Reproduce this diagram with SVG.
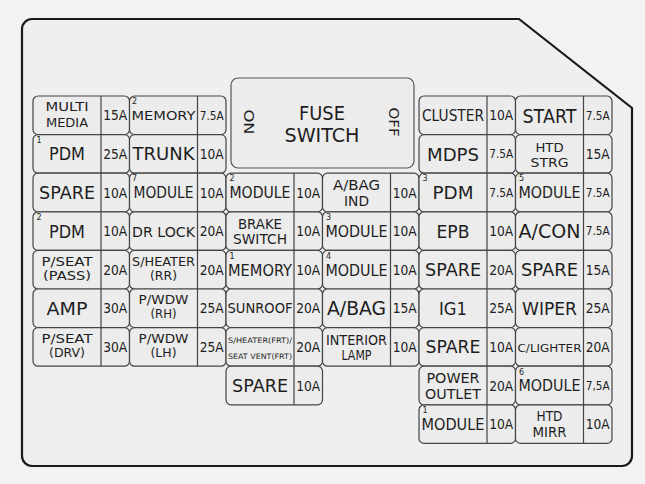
<svg xmlns="http://www.w3.org/2000/svg" width="645" height="484" viewBox="0 0 645 484">
<style>
.c{fill:#ececec;stroke:#444;stroke-width:1.2}
.s{stroke:#444;stroke-width:1.2}
text{font-family:"DejaVu Sans","Liberation Sans",sans-serif;fill:#1e1e1e;text-anchor:middle}
.L{font-size:18px}
.M{font-size:16px}
.T{font-size:13.5px}
.P{font-size:12px}
.a{font-size:14px}
.q{font-size:11.5px}
.n{font-size:8px;text-anchor:start}
</style>
<rect x="0" y="0" width="645" height="484" fill="#f2f2f2"/>
<g id="panel">
<path d="M32,19 H519 L632,108 V456 A10,10 0 0 1 622,466 H32 A10,10 0 0 1 22,456 V29 A10,10 0 0 1 32,19 Z" fill="#efefef" stroke="#1a1a1a" stroke-width="2.2"/>
</g>
<g id="fuse-switch">
<rect x="231" y="78" width="183" height="90" rx="7" fill="#ececec" stroke="#555" stroke-width="1.2"/>
<text x="322" y="120" style="font-size:20px" textLength="46" lengthAdjust="spacingAndGlyphs">FUSE</text>
<text x="322" y="142" style="font-size:20px" textLength="75" lengthAdjust="spacingAndGlyphs">SWITCH</text>
<text transform="translate(249,122) rotate(90)" x="0" y="4.8" style="font-size:13.5px" textLength="25" lengthAdjust="spacingAndGlyphs">ON</text>
<text transform="translate(394,122) rotate(90)" x="0" y="4.8" style="font-size:13.5px" textLength="29" lengthAdjust="spacingAndGlyphs">OFF</text>
</g>

<!-- column A -->
<g id="A0"><rect class="c" x="33" y="96" width="96.5" height="38.6" rx="5"/><line class="s" x1="101" y1="96" x2="101" y2="134.6"/>
<text x="67" y="110.8" style="font-size:12px" textLength="43" lengthAdjust="spacingAndGlyphs">MULTI</text>
<text x="67" y="126.8" style="font-size:12px" textLength="42" lengthAdjust="spacingAndGlyphs">MEDIA</text>
<text class="a" x="115.25" y="120.4" textLength="24" lengthAdjust="spacingAndGlyphs">15A</text></g>
<g id="A1"><rect class="c" x="33" y="134.6" width="96.5" height="38.6" rx="5"/><line class="s" x1="101" y1="134.6" x2="101" y2="173.2"/>
<text class="n" x="36.5" y="142.8">1</text>
<text class="L" x="67" y="160.4" textLength="36" lengthAdjust="spacingAndGlyphs">PDM</text>
<text class="a" x="115.25" y="159" textLength="24" lengthAdjust="spacingAndGlyphs">25A</text></g>
<g id="A2"><rect class="c" x="33" y="173.2" width="96.5" height="38.6" rx="5"/><line class="s" x1="101" y1="173.2" x2="101" y2="211.8"/>
<text class="L" x="67" y="199" textLength="56" lengthAdjust="spacingAndGlyphs">SPARE</text>
<text class="a" x="115.25" y="197.6" textLength="24" lengthAdjust="spacingAndGlyphs">10A</text></g>
<g id="A3"><rect class="c" x="33" y="211.8" width="96.5" height="38.6" rx="5"/><line class="s" x1="101" y1="211.8" x2="101" y2="250.4"/>
<text class="n" x="36.5" y="220">2</text>
<text class="L" x="67" y="237.6" textLength="36" lengthAdjust="spacingAndGlyphs">PDM</text>
<text class="a" x="115.25" y="236.2" textLength="24" lengthAdjust="spacingAndGlyphs">10A</text></g>
<g id="A4"><rect class="c" x="33" y="250.4" width="96.5" height="38.6" rx="5"/><line class="s" x1="101" y1="250.4" x2="101" y2="289"/>
<text class="P" x="67" y="265.5" textLength="51" lengthAdjust="spacingAndGlyphs">P/SEAT</text>
<text class="P" x="67" y="279.7" textLength="48" lengthAdjust="spacingAndGlyphs">(PASS)</text>
<text class="a" x="115.25" y="274.8" textLength="24" lengthAdjust="spacingAndGlyphs">20A</text></g>
<g id="A5"><rect class="c" x="33" y="289" width="96.5" height="38.6" rx="5"/><line class="s" x1="101" y1="289" x2="101" y2="327.6"/>
<text class="L" x="67" y="314.8" textLength="41" lengthAdjust="spacingAndGlyphs">AMP</text>
<text class="a" x="115.25" y="313.4" textLength="24" lengthAdjust="spacingAndGlyphs">30A</text></g>
<g id="A6"><rect class="c" x="33" y="327.6" width="96.5" height="38.6" rx="5"/><line class="s" x1="101" y1="327.6" x2="101" y2="366.2"/>
<text class="P" x="67" y="342.7" textLength="51" lengthAdjust="spacingAndGlyphs">P/SEAT</text>
<text class="P" x="67" y="356.9" textLength="36" lengthAdjust="spacingAndGlyphs">(DRV)</text>
<text class="a" x="115.25" y="352" textLength="24" lengthAdjust="spacingAndGlyphs">30A</text></g>

<!-- column B -->
<g id="B0"><rect class="c" x="129.5" y="96" width="96.5" height="38.6" rx="5"/><line class="s" x1="197.5" y1="96" x2="197.5" y2="134.6"/>
<text class="n" x="132" y="103.8">2</text>
<text x="163.5" y="120" style="font-size:13px" textLength="64" lengthAdjust="spacingAndGlyphs">MEMORY</text>
<text class="q" x="211.75" y="119.5" textLength="24" lengthAdjust="spacingAndGlyphs">7.5A</text></g>
<g id="B1"><rect class="c" x="129.5" y="134.6" width="96.5" height="38.6" rx="5"/><line class="s" x1="197.5" y1="134.6" x2="197.5" y2="173.2"/>
<text class="L" x="163.5" y="160.4" textLength="62" lengthAdjust="spacingAndGlyphs">TRUNK</text>
<text class="a" x="211.75" y="159" textLength="24" lengthAdjust="spacingAndGlyphs">10A</text></g>
<g id="B2"><rect class="c" x="129.5" y="173.2" width="96.5" height="38.6" rx="5"/><line class="s" x1="197.5" y1="173.2" x2="197.5" y2="211.8"/>
<text class="n" x="132" y="181.4">7</text>
<text x="163.5" y="198" style="font-size:15px" textLength="60" lengthAdjust="spacingAndGlyphs">MODULE</text>
<text class="a" x="211.75" y="197.6" textLength="24" lengthAdjust="spacingAndGlyphs">10A</text></g>
<g id="B3"><rect class="c" x="129.5" y="211.8" width="96.5" height="38.6" rx="5"/><line class="s" x1="197.5" y1="211.8" x2="197.5" y2="250.4"/>
<text x="163.5" y="236.7" style="font-size:14.5px" textLength="63" lengthAdjust="spacingAndGlyphs">DR LOCK</text>
<text class="a" x="211.75" y="236.2" textLength="24" lengthAdjust="spacingAndGlyphs">20A</text></g>
<g id="B4"><rect class="c" x="129.5" y="250.4" width="96.5" height="38.6" rx="5"/><line class="s" x1="197.5" y1="250.4" x2="197.5" y2="289"/>
<text class="P" x="163.5" y="265.5" textLength="63" lengthAdjust="spacingAndGlyphs">S/HEATER</text>
<text class="P" x="163.5" y="279.7" textLength="27" lengthAdjust="spacingAndGlyphs">(RR)</text>
<text class="a" x="211.75" y="274.8" textLength="24" lengthAdjust="spacingAndGlyphs">20A</text></g>
<g id="B5"><rect class="c" x="129.5" y="289" width="96.5" height="38.6" rx="5"/><line class="s" x1="197.5" y1="289" x2="197.5" y2="327.6"/>
<text class="P" x="163.5" y="304.1" textLength="50" lengthAdjust="spacingAndGlyphs">P/WDW</text>
<text class="P" x="163.5" y="318.3" textLength="26" lengthAdjust="spacingAndGlyphs">(RH)</text>
<text class="a" x="211.75" y="313.4" textLength="24" lengthAdjust="spacingAndGlyphs">25A</text></g>
<g id="B6"><rect class="c" x="129.5" y="327.6" width="96.5" height="38.6" rx="5"/><line class="s" x1="197.5" y1="327.6" x2="197.5" y2="366.2"/>
<text class="P" x="163.5" y="342.7" textLength="50" lengthAdjust="spacingAndGlyphs">P/WDW</text>
<text class="P" x="163.5" y="356.9" textLength="26" lengthAdjust="spacingAndGlyphs">(LH)</text>
<text class="a" x="211.75" y="352" textLength="24" lengthAdjust="spacingAndGlyphs">25A</text></g>

<!-- column C -->
<g id="C2"><rect class="c" x="226" y="173.2" width="96.5" height="38.6" rx="5"/><line class="s" x1="294" y1="173.2" x2="294" y2="211.8"/>
<text class="n" x="229.5" y="181.4">2</text>
<text class="M" x="260" y="198.3" textLength="61" lengthAdjust="spacingAndGlyphs">MODULE</text>
<text class="a" x="308.25" y="197.6" textLength="24" lengthAdjust="spacingAndGlyphs">10A</text></g>
<g id="C3"><rect class="c" x="226" y="211.8" width="96.5" height="38.6" rx="5"/><line class="s" x1="294" y1="211.8" x2="294" y2="250.4"/>
<text class="T" x="260" y="228.6" textLength="44" lengthAdjust="spacingAndGlyphs">BRAKE</text>
<text class="T" x="260" y="244.4" textLength="54" lengthAdjust="spacingAndGlyphs">SWITCH</text>
<text class="a" x="308.25" y="236.2" textLength="24" lengthAdjust="spacingAndGlyphs">10A</text></g>
<g id="C4"><rect class="c" x="226" y="250.4" width="96.5" height="38.6" rx="5"/><line class="s" x1="294" y1="250.4" x2="294" y2="289"/>
<text class="n" x="229.5" y="258.8">1</text>
<text class="M" x="260" y="275.5" textLength="64" lengthAdjust="spacingAndGlyphs">MEMORY</text>
<text class="a" x="308.25" y="274.8" textLength="24" lengthAdjust="spacingAndGlyphs">10A</text></g>
<g id="C5"><rect class="c" x="226" y="289" width="96.5" height="38.6" rx="5"/><line class="s" x1="294" y1="289" x2="294" y2="327.6"/>
<text x="260" y="313.2" style="font-size:14px" textLength="65" lengthAdjust="spacingAndGlyphs">SUNROOF</text>
<text class="a" x="308.25" y="313.4" textLength="24" lengthAdjust="spacingAndGlyphs">20A</text></g>
<g id="C6"><rect class="c" x="226" y="327.6" width="96.5" height="38.6" rx="5"/><line class="s" x1="294" y1="327.6" x2="294" y2="366.2"/>
<text x="260" y="343" style="font-size:7.5px" textLength="64" lengthAdjust="spacingAndGlyphs">S/HEATER(FRT)/</text>
<text x="260" y="358.5" style="font-size:7.5px" textLength="64" lengthAdjust="spacingAndGlyphs">SEAT VENT(FRT)</text>
<text class="a" x="308.25" y="352" textLength="24" lengthAdjust="spacingAndGlyphs">20A</text></g>
<g id="C7"><rect class="c" x="226" y="366.2" width="96.5" height="38.6" rx="5"/><line class="s" x1="294" y1="366.2" x2="294" y2="404.8"/>
<text class="L" x="260" y="392" textLength="56" lengthAdjust="spacingAndGlyphs">SPARE</text>
<text class="a" x="308.25" y="390.6" textLength="24" lengthAdjust="spacingAndGlyphs">10A</text></g>

<!-- column D -->
<g id="D2"><rect class="c" x="322.5" y="173.2" width="96.5" height="38.6" rx="5"/><line class="s" x1="390.5" y1="173.2" x2="390.5" y2="211.8"/>
<text class="T" x="356.5" y="190" textLength="47" lengthAdjust="spacingAndGlyphs">A/BAG</text>
<text class="T" x="356.5" y="206" textLength="25" lengthAdjust="spacingAndGlyphs">IND</text>
<text class="a" x="404.75" y="197.6" textLength="24" lengthAdjust="spacingAndGlyphs">10A</text></g>
<g id="D3"><rect class="c" x="322.5" y="211.8" width="96.5" height="38.6" rx="5"/><line class="s" x1="390.5" y1="211.8" x2="390.5" y2="250.4"/>
<text class="n" x="326" y="220">3</text>
<text class="M" x="356.5" y="236.9" textLength="62" lengthAdjust="spacingAndGlyphs">MODULE</text>
<text class="a" x="404.75" y="236.2" textLength="24" lengthAdjust="spacingAndGlyphs">10A</text></g>
<g id="D4"><rect class="c" x="322.5" y="250.4" width="96.5" height="38.6" rx="5"/><line class="s" x1="390.5" y1="250.4" x2="390.5" y2="289"/>
<text class="n" x="326" y="258.8">4</text>
<text class="M" x="356.5" y="275.5" textLength="62" lengthAdjust="spacingAndGlyphs">MODULE</text>
<text class="a" x="404.75" y="274.8" textLength="24" lengthAdjust="spacingAndGlyphs">10A</text></g>
<g id="D5"><rect class="c" x="322.5" y="289" width="96.5" height="38.6" rx="5"/><line class="s" x1="390.5" y1="289" x2="390.5" y2="327.6"/>
<text x="356.5" y="315.2" style="font-size:19px" textLength="59" lengthAdjust="spacingAndGlyphs">A/BAG</text>
<text class="a" x="404.75" y="313.4" textLength="24" lengthAdjust="spacingAndGlyphs">15A</text></g>
<g id="D6"><rect class="c" x="322.5" y="327.6" width="96.5" height="38.6" rx="5"/><line class="s" x1="390.5" y1="327.6" x2="390.5" y2="366.2"/>
<text class="T" x="356.5" y="344.6" textLength="61" lengthAdjust="spacingAndGlyphs">INTERIOR</text>
<text class="T" x="356.5" y="360.4" textLength="30" lengthAdjust="spacingAndGlyphs">LAMP</text>
<text class="a" x="404.75" y="352" textLength="24" lengthAdjust="spacingAndGlyphs">10A</text></g>

<!-- column E -->
<g id="E0"><rect class="c" x="419" y="96" width="96.5" height="38.6" rx="5"/><line class="s" x1="487" y1="96" x2="487" y2="134.6"/>
<text x="453" y="121" style="font-size:15px" textLength="62" lengthAdjust="spacingAndGlyphs">CLUSTER</text>
<text class="a" x="501.25" y="120.4" textLength="24" lengthAdjust="spacingAndGlyphs">10A</text></g>
<g id="E1"><rect class="c" x="419" y="134.6" width="96.5" height="38.6" rx="5"/><line class="s" x1="487" y1="134.6" x2="487" y2="173.2"/>
<text x="453" y="160.8" style="font-size:18.5px" textLength="52" lengthAdjust="spacingAndGlyphs">MDPS</text>
<text class="q" x="501.25" y="158.1" textLength="24" lengthAdjust="spacingAndGlyphs">7.5A</text></g>
<g id="E2"><rect class="c" x="419" y="173.2" width="96.5" height="38.6" rx="5"/><line class="s" x1="487" y1="173.2" x2="487" y2="211.8"/>
<text class="n" x="422.5" y="181.4">3</text>
<text class="L" x="453" y="199" textLength="41" lengthAdjust="spacingAndGlyphs">PDM</text>
<text class="q" x="501.25" y="196.7" textLength="24" lengthAdjust="spacingAndGlyphs">7.5A</text></g>
<g id="E3"><rect class="c" x="419" y="211.8" width="96.5" height="38.6" rx="5"/><line class="s" x1="487" y1="211.8" x2="487" y2="250.4"/>
<text class="L" x="453" y="237.6" textLength="33" lengthAdjust="spacingAndGlyphs">EPB</text>
<text class="a" x="501.25" y="236.2" textLength="24" lengthAdjust="spacingAndGlyphs">10A</text></g>
<g id="E4"><rect class="c" x="419" y="250.4" width="96.5" height="38.6" rx="5"/><line class="s" x1="487" y1="250.4" x2="487" y2="289"/>
<text class="L" x="453" y="276.2" textLength="56" lengthAdjust="spacingAndGlyphs">SPARE</text>
<text class="a" x="501.25" y="274.8" textLength="24" lengthAdjust="spacingAndGlyphs">20A</text></g>
<g id="E5"><rect class="c" x="419" y="289" width="96.5" height="38.6" rx="5"/><line class="s" x1="487" y1="289" x2="487" y2="327.6"/>
<text class="L" x="453" y="314.8" textLength="28" lengthAdjust="spacingAndGlyphs">IG1</text>
<text class="a" x="501.25" y="313.4" textLength="24" lengthAdjust="spacingAndGlyphs">25A</text></g>
<g id="E6"><rect class="c" x="419" y="327.6" width="96.5" height="38.6" rx="5"/><line class="s" x1="487" y1="327.6" x2="487" y2="366.2"/>
<text class="L" x="453" y="353.4" textLength="55" lengthAdjust="spacingAndGlyphs">SPARE</text>
<text class="a" x="501.25" y="352" textLength="24" lengthAdjust="spacingAndGlyphs">10A</text></g>
<g id="E7"><rect class="c" x="419" y="366.2" width="96.5" height="38.6" rx="5"/><line class="s" x1="487" y1="366.2" x2="487" y2="404.8"/>
<text class="T" x="453" y="383" textLength="53" lengthAdjust="spacingAndGlyphs">POWER</text>
<text class="T" x="453" y="399" textLength="56" lengthAdjust="spacingAndGlyphs">OUTLET</text>
<text class="a" x="501.25" y="390.6" textLength="24" lengthAdjust="spacingAndGlyphs">20A</text></g>
<g id="E8"><rect class="c" x="419" y="404.8" width="96.5" height="38.6" rx="5"/><line class="s" x1="487" y1="404.8" x2="487" y2="443.4"/>
<text class="n" x="422.5" y="413.4">1</text>
<text x="453" y="430" style="font-size:15px" textLength="63" lengthAdjust="spacingAndGlyphs">MODULE</text>
<text class="a" x="501.25" y="429.2" textLength="24" lengthAdjust="spacingAndGlyphs">10A</text></g>

<!-- column F -->
<g id="F0"><rect class="c" x="515.5" y="96" width="96.5" height="38.6" rx="5"/><line class="s" x1="583.5" y1="96" x2="583.5" y2="134.6"/>
<text x="549.5" y="122.5" style="font-size:19px" textLength="54" lengthAdjust="spacingAndGlyphs">START</text>
<text class="q" x="597.75" y="119.5" textLength="24" lengthAdjust="spacingAndGlyphs">7.5A</text></g>
<g id="F1"><rect class="c" x="515.5" y="134.6" width="96.5" height="38.6" rx="5"/><line class="s" x1="583.5" y1="134.6" x2="583.5" y2="173.2"/>
<text x="549.5" y="151.6" style="font-size:13px" textLength="28" lengthAdjust="spacingAndGlyphs">HTD</text>
<text x="549.5" y="167" style="font-size:13px" textLength="38" lengthAdjust="spacingAndGlyphs">STRG</text>
<text class="a" x="597.75" y="159" textLength="24" lengthAdjust="spacingAndGlyphs">15A</text></g>
<g id="F2"><rect class="c" x="515.5" y="173.2" width="96.5" height="38.6" rx="5"/><line class="s" x1="583.5" y1="173.2" x2="583.5" y2="211.8"/>
<text class="n" x="519" y="181.4">5</text>
<text class="M" x="549.5" y="198.3" textLength="62" lengthAdjust="spacingAndGlyphs">MODULE</text>
<text class="q" x="597.75" y="196.7" textLength="24" lengthAdjust="spacingAndGlyphs">7.5A</text></g>
<g id="F3"><rect class="c" x="515.5" y="211.8" width="96.5" height="38.6" rx="5"/><line class="s" x1="583.5" y1="211.8" x2="583.5" y2="250.4"/>
<text x="549.5" y="238" style="font-size:19px" textLength="62" lengthAdjust="spacingAndGlyphs">A/CON</text>
<text class="q" x="597.75" y="235.3" textLength="24" lengthAdjust="spacingAndGlyphs">7.5A</text></g>
<g id="F4"><rect class="c" x="515.5" y="250.4" width="96.5" height="38.6" rx="5"/><line class="s" x1="583.5" y1="250.4" x2="583.5" y2="289"/>
<text class="L" x="549.5" y="276.2" textLength="57" lengthAdjust="spacingAndGlyphs">SPARE</text>
<text class="a" x="597.75" y="274.8" textLength="24" lengthAdjust="spacingAndGlyphs">15A</text></g>
<g id="F5"><rect class="c" x="515.5" y="289" width="96.5" height="38.6" rx="5"/><line class="s" x1="583.5" y1="289" x2="583.5" y2="327.6"/>
<text class="L" x="549.5" y="314.8" textLength="55" lengthAdjust="spacingAndGlyphs">WIPER</text>
<text class="a" x="597.75" y="313.4" textLength="24" lengthAdjust="spacingAndGlyphs">25A</text></g>
<g id="F6"><rect class="c" x="515.5" y="327.6" width="96.5" height="38.6" rx="5"/><line class="s" x1="583.5" y1="327.6" x2="583.5" y2="366.2"/>
<text x="549.5" y="351.5" style="font-size:10.5px" textLength="64" lengthAdjust="spacingAndGlyphs">C/LIGHTER</text>
<text class="a" x="597.75" y="352" textLength="24" lengthAdjust="spacingAndGlyphs">20A</text></g>
<g id="F7"><rect class="c" x="515.5" y="366.2" width="96.5" height="38.6" rx="5"/><line class="s" x1="583.5" y1="366.2" x2="583.5" y2="404.8"/>
<text class="n" x="519" y="375">6</text>
<text class="M" x="549.5" y="391.3" textLength="62" lengthAdjust="spacingAndGlyphs">MODULE</text>
<text class="q" x="597.75" y="389.7" textLength="24" lengthAdjust="spacingAndGlyphs">7,5A</text></g>
<g id="F8"><rect class="c" x="515.5" y="404.8" width="96.5" height="38.6" rx="5"/><line class="s" x1="583.5" y1="404.8" x2="583.5" y2="443.4"/>
<text class="T" x="549.5" y="421" textLength="26" lengthAdjust="spacingAndGlyphs">HTD</text>
<text class="T" x="549.5" y="437" textLength="34" lengthAdjust="spacingAndGlyphs">MIRR</text>
<text class="a" x="597.75" y="429.2" textLength="24" lengthAdjust="spacingAndGlyphs">10A</text></g>
<g id="connectors"></g>
</svg>
